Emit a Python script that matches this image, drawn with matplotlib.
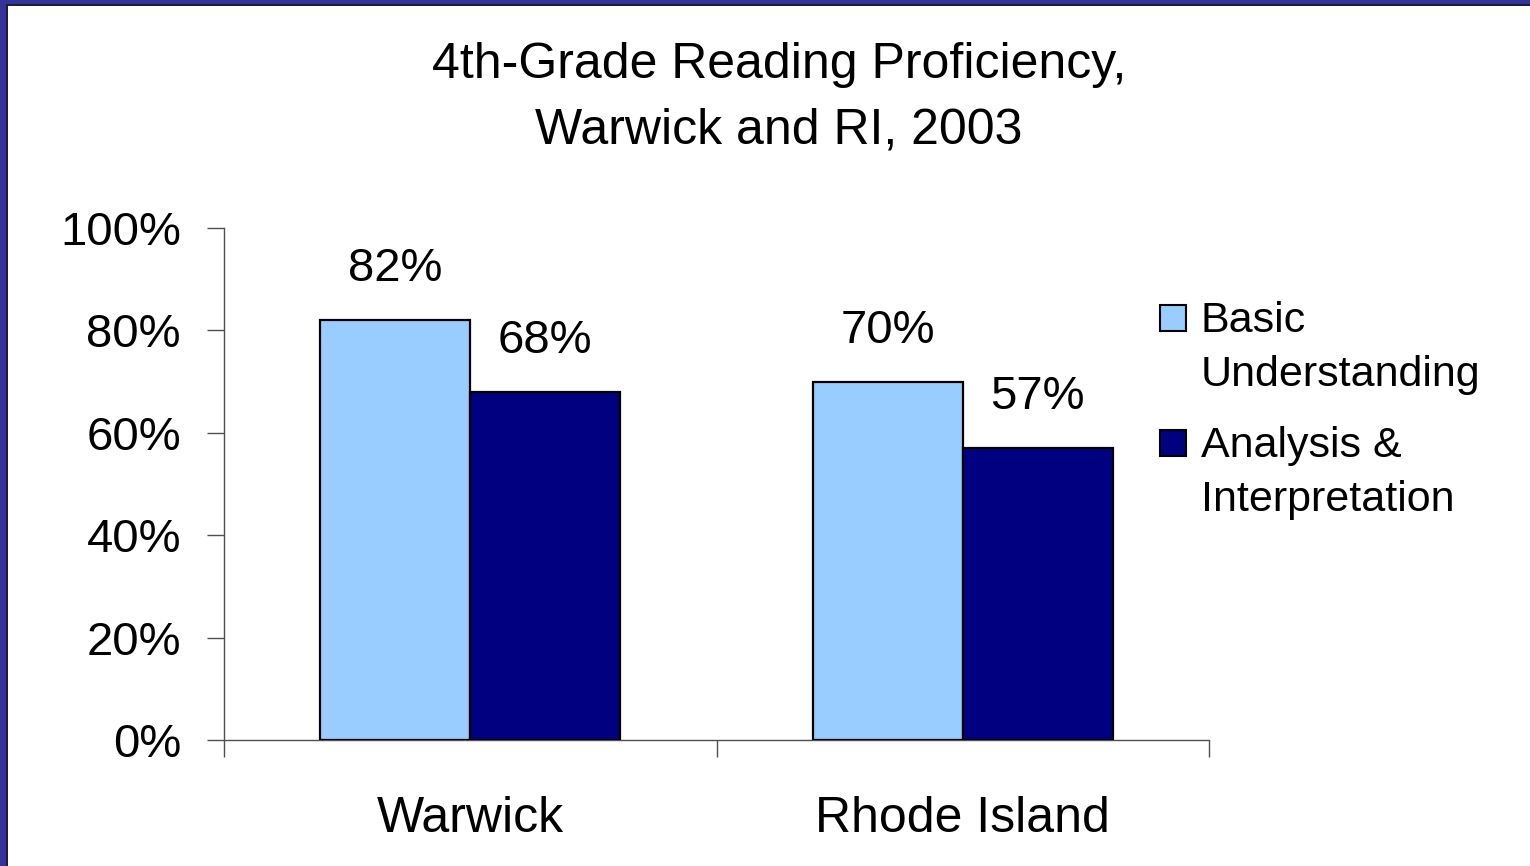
import matplotlib.pyplot as plt
from matplotlib.patches import Rectangle
import numpy as np

plt.rcParams["font.family"] = ["Liberation Sans", "DejaVu Sans"]

categories = ["Warwick", "Rhode Island"]
series_names = ["Basic\nUnderstanding", "Analysis &\nInterpretation"]
basic = [82, 70]
analysis = [68, 57]
series_colors = ["#99CCFF", "#000080"]
y_ticks = [0, 20, 40, 60, 80, 100]
title_lines = ["4th-Grade Reading Proficiency,", "Warwick and RI, 2003"]

W, H = 1530, 866
fig = plt.figure(figsize=(W / 100, H / 100), dpi=100)
fig.patch.set_facecolor("white")

# slide border (left and top)
fig.add_artist(Rectangle((0, 0), 6 / W, 1, transform=fig.transFigure,
                         facecolor="#333399", edgecolor="none"))
fig.add_artist(Rectangle((6 / W, 0), 2 / W, 1 - 4 / H, transform=fig.transFigure,
                         facecolor="#1c1c40", edgecolor="none"))
fig.add_artist(Rectangle((0, 1 - 4 / H), 1, 4 / H, transform=fig.transFigure,
                         facecolor="#333399", edgecolor="none"))
fig.add_artist(Rectangle((6 / W, 1 - 6 / H), 1, 2 / H, transform=fig.transFigure,
                         facecolor="#1c1c40", edgecolor="none"))

ax = fig.add_axes([224 / W, (H - 740) / H, 985 / W, 512 / H])

x = np.arange(len(categories))
width = 0.3046
data = [basic, analysis]
for i, (vals, color) in enumerate(zip(data, series_colors)):
    offset = (i - 0.5) * width
    bars = ax.bar(x + offset, vals, width, color=color, edgecolor="black",
                  linewidth=1.6, zorder=3)
    for b, v in zip(bars, vals):
        ax.annotate(f"{v}%", (b.get_x() + b.get_width() / 2, v),
                    xytext=(0, 28), textcoords="offset points",
                    ha="center", va="baseline", fontsize=34)

ax.set_xlim(-0.5, len(categories) - 0.5)
ax.set_ylim(0, 100)

ax.set_yticks(y_ticks)
ax.set_yticklabels([f"{v}%" for v in y_ticks], fontsize=34)
ax.tick_params(axis="y", direction="out", length=12, width=1,
               color="#505050", pad=19)

ax.set_xticks(np.arange(len(categories) + 1) - 0.5)
ax.set_xticklabels([])
ax.tick_params(axis="x", which="major", direction="out", length=12, width=1,
               color="#505050")
ax.set_xticks(x, minor=True)
ax.set_xticklabels(categories, minor=True, fontsize=36)
ax.tick_params(axis="x", which="minor", length=0, pad=40)

for side in ["top", "right"]:
    ax.spines[side].set_visible(False)
for side in ["left", "bottom"]:
    ax.spines[side].set_color("#505050")
    ax.spines[side].set_linewidth(1)

# title
fig.text(779 / W, 1 - 78 / H, title_lines[0], ha="center", va="baseline",
         fontsize=36)
fig.text(779 / W, 1 - 144 / H, title_lines[1], ha="center", va="baseline",
         fontsize=36)

# legend, square aligned to first text line
leg_y = [318, 443]
for name, color, yc in zip(series_names, series_colors, leg_y):
    fig.add_artist(Rectangle((1160 / W, 1 - (yc + 13) / H), 26 / W, 26 / H,
                             transform=fig.transFigure, facecolor=color,
                             edgecolor="black", linewidth=1.5))
    for j, line in enumerate(name.split("\n")):
        fig.text(1201 / W, 1 - (yc + 14 + 54 * j) / H, line, ha="left",
                 va="baseline", fontsize=31)

fig.savefig("out.png", dpi=100, facecolor="white")
